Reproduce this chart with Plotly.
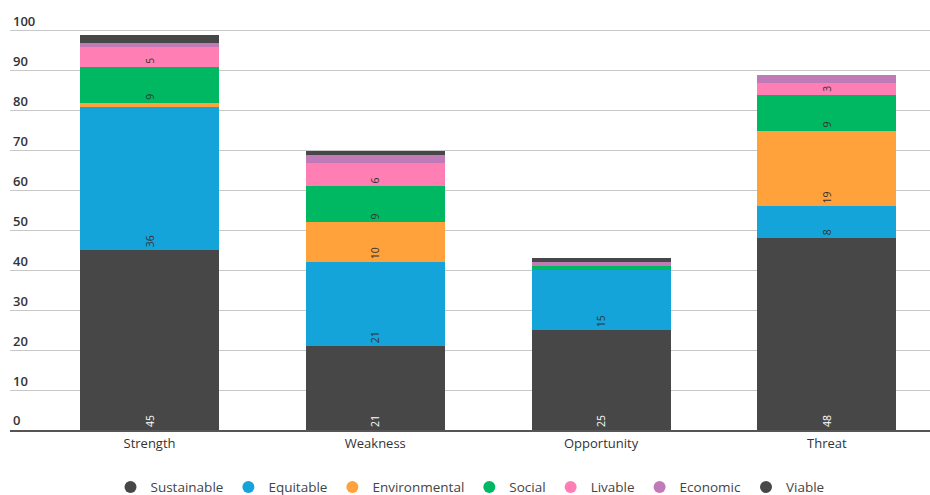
import plotly.graph_objects as go

categories = ["Strength", "Weakness", "Opportunity", "Threat"]
series_names = ["Sustainable", "Equitable", "Environmental", "Social", "Livable", "Economic", "Viable"]
sustainable = [45, 21, 25, 48]
equitable = [36, 21, 15, 8]
environmental = [1, 10, 0, 19]
social = [9, 9, 1, 9]
livable = [5, 6, 0, 3]
economic = [1, 2, 1, 2]
viable = [2, 1, 1, 0]
y_ticks = [0, 10, 20, 30, 40, 50, 60, 70, 80, 90, 100]

series_values = [sustainable, equitable, environmental, social, livable, economic, viable]
colors = ["#474747", "#15a4da", "#ffa23b", "#00b862", "#ff7eb3", "#c07ab7", "#474747"]
text_colors = ["#ffffff", "#333333", "#333333", "#333333", "#333333", "#333333", "#ffffff"]

FONT = "Open Sans"

fig = go.Figure()
for name, vals, col, tcol in zip(series_names, series_values, colors, text_colors):
    fig.add_trace(go.Bar(
        name=name, x=categories, y=vals,
        marker=dict(color=col, line=dict(width=0)),
        text=[str(v) if v >= 3 else "" for v in vals],
        textposition="inside", insidetextanchor="start", textangle=-90,
        textfont=dict(color=tcol, size=13, family=FONT),
        showlegend=False, hoverinfo="x+y+name",
    ))
    fig.add_trace(go.Scatter(
        name=name, x=[None], y=[None], mode="markers",
        marker=dict(symbol="circle", size=16, color=col),
        showlegend=True, hoverinfo="skip",
    ))

fig.update_layout(
    barmode="stack", bargap=0.384,
    width=930, height=495,
    margin=dict(l=10, r=0, t=14, b=65, autoexpand=False),
    paper_bgcolor="white", plot_bgcolor="white",
    font=dict(family=FONT, color="#333333", size=12),
    uniformtext=dict(minsize=8, mode="show"),
    legend=dict(orientation="h", traceorder="normal", x=0.5, xanchor="center",
                y=-0.175, yanchor="bottom", itemwidth=30,
                font=dict(size=13.5, color="#444444", family=FONT), itemsizing="constant"),
    xaxis=dict(range=[-0.618, 3.457], showgrid=False, showline=True, linecolor="#555555",
               linewidth=2, ticks="", ticklabelstandoff=0,
               tickfont=dict(size=13, color="#333333", family=FONT, weight=500),
               fixedrange=True),
    yaxis=dict(range=[0, 104.2], tickvals=y_ticks, showgrid=True, gridcolor="#c8c8c8",
               gridwidth=1, zeroline=False, ticklabelposition="inside top",
               ticklabeloverflow="allow",
               tickfont=dict(size=13, color="#333333", family=FONT, weight=600), ticks="",
               fixedrange=True),
)

fig.write_html("out.html")
